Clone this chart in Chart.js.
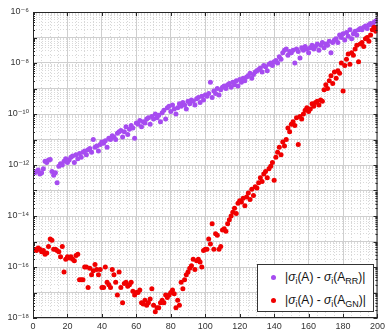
<!DOCTYPE html>
<html>
<head>
<meta charset="utf-8">
<script src="https://cdn.jsdelivr.net/npm/chart.js@4"></script>
<style>
  html, body { margin: 0; padding: 0; background: #fff; }
  #wrap { position: relative; width: 388px; height: 330px; }
  #legend {
    position: absolute; left: 257px; top: 264px; width: 115px; height: 46px;
    border: 1px solid #333; background: #fff;
    font-family: "Liberation Sans", Arial, sans-serif; font-size: 12px; color: #111;
  }
  .row { position: absolute; left: 0; height: 20px; line-height: 20px; white-space: nowrap; }
  .dot { position: absolute; left: 13px; top: 8px; width: 5px; height: 5px; border-radius: 50%; }
  .txt { position: absolute; left: 27px; top: 0; }
  sub { font-size: 9px; line-height: 0; vertical-align: -3px; }
</style>
</head>
<body>
<div id="wrap">
  <canvas id="chart" width="388" height="330"></canvas>
  <div id="legend">
    <div class="row" style="top:2px"><span class="dot" style="background:#a64cf0"></span><span class="txt">|<i>σ</i><sub>i</sub>(A) - <i>σ</i><sub>i</sub>(A<sub>RR</sub>)|</span></div>
    <div class="row" style="top:25px"><span class="dot" style="background:#f00000"></span><span class="txt">|<i>σ</i><sub>i</sub>(A) - <i>σ</i><sub>i</sub>(A<sub>GN</sub>)|</span></div>
  </div>
</div>
<script>
// log10 of |sigma_i(A) - sigma_i(A_RR)|, i = 1..200
const rrExp = [
  -12.3, -12.25, -12.2, -12.35, -12.3, -12.15, -11.85, -11.9, -11.8, -11.78,
  -12.25, -12.4, -12.3, -12.7, -12.05, -11.95, -12.0, -11.85, -11.75, -11.9,
  -11.8, -11.7, -11.65, -11.9, -11.6, -11.75, -11.55, -11.7, -11.5, -11.45,
  -11.6, -11.4, -11.35, -11.5, -11.0, -11.3, -11.25, -11.45, -11.2, -11.1,
  -11.15, -11.05, -11.3, -10.95, -11.0, -10.85, -10.9, -11.0, -10.75, -10.7,
  -10.65, -10.9, -10.7, -10.5, -10.8, -10.6, -10.45, -10.55, -10.95, -10.35,
  -10.4, -10.25, -10.5, -10.3, -10.35, -10.2, -10.15, -10.4, -10.1, -10.2,
  -10.0, -10.15, -10.05, -10.3, -9.95, -9.85, -10.2, -9.75, -9.7, -9.9,
  -9.65, -9.8, -10.0, -9.75, -9.6, -9.7, -9.55, -9.65, -9.8, -9.5,
  -9.6, -9.45, -9.5, -9.65, -9.4, -9.35, -9.55, -9.3, -9.45, -9.25,
  -9.3, -9.2, -8.75, -9.35, -9.1, -9.2, -9.0, -9.25, -9.05, -8.95,
  -8.9, -9.0, -8.85, -8.8, -8.95, -8.75, -8.85, -8.7, -8.9, -8.65,
  -8.75, -8.6, -8.7, -8.55, -8.5, -8.4, -8.6, -8.45, -8.35, -8.3,
  -8.25, -8.2, -8.35, -8.1, -8.15, -8.3, -8.05, -8.0, -8.1, -7.95,
  -7.9, -8.0, -7.75, -7.85, -7.6, -7.5, -7.45, -7.7, -7.55, -7.6,
  -7.5, -8.0, -7.45, -7.55, -7.8, -7.4, -7.5, -7.35, -7.45, -7.6,
  -7.4, -7.3, -7.45, -7.35, -7.25, -7.5, -7.3, -7.2, -7.4, -7.25,
  -7.3, -7.15, -7.6, -7.2, -7.1, -7.05, -7.2, -6.9, -7.0, -6.85,
  -7.1, -6.8, -6.95, -6.7, -7.05, -6.85, -6.75, -6.9, -6.7, -6.65,
  -6.7, -6.6, -6.55, -6.65, -6.5, -6.45, -6.5, -6.4, -6.35, -6.3
];

// log10 of |sigma_i(A) - sigma_i(A_GN)|, i = 1..200
const gnExp = [
  -15.3, -15.35, -15.25, -15.3, -15.4, -15.35, -15.5, -15.45, -15.2, -14.9,
  -14.95, -15.3, -15.3, -15.35, -15.4, -15.6, -15.2, -16.2, -15.7, -15.6,
  -15.65, -15.6, -15.7, -15.75, -15.55, -15.5, -16.5, -16.5, -16.5, -16.0,
  -16.0, -16.8, -16.05, -16.3, -16.15, -15.9, -16.1, -16.3, -16.1, -16.8,
  -16.8, -16.0, -16.6, -16.7, -16.8, -16.1, -16.3, -16.6, -17.1, -16.2,
  -16.8, -17.4, -16.65, -16.6, -16.75, -16.7, -16.6, -16.95, -17.1, -17.0,
  -17.0, -16.9, -17.4, -17.45, -17.3, -17.5, -17.4, -17.25, -16.85, -17.5,
  -17.75, -17.6, -17.6, -17.4, -17.3, -17.4, -17.1, -17.2, -17.1, -17.0,
  -16.9, -17.05, -17.6, -17.3, -17.5, -16.6, -16.85, -16.5, -16.3, -16.2,
  -16.05, -15.95, -15.7, -16.1, -15.75, -15.7, -15.8, -16.0, -15.35, -15.3,
  -15.3, -14.9, -15.1, -14.3, -15.3, -14.7, -14.75, -15.3, -15.2, -14.55,
  -14.5, -14.6, -14.3, -14.15, -14.0, -13.85, -13.7, -13.9, -13.5, -13.4,
  -13.45, -13.3, -13.6, -13.25, -13.1, -13.35, -12.95, -13.2, -12.85, -12.9,
  -12.7, -12.5, -12.65, -12.35, -12.25, -12.5, -12.15, -12.05, -11.9, -12.6,
  -11.7, -11.5, -11.3, -11.6, -11.1, -11.25, -11.0, -10.55, -10.7, -10.4,
  -10.3, -10.45, -10.15, -11.2, -10.1, -10.2, -10.0, -9.85, -9.75, -9.9,
  -9.8, -9.6, -9.7, -9.55, -9.5, -9.65, -9.45, -9.5, -9.05, -8.85,
  -9.0, -8.7, -8.5, -8.8, -8.35, -8.6, -8.3, -8.4, -8.0, -9.1,
  -8.1, -7.85, -7.65, -8.05, -7.6, -7.7, -7.45, -7.3, -7.95, -7.25,
  -7.2, -7.35, -7.05, -7.0, -7.15, -6.9, -6.7, -6.6, -6.75, -6.6
];

const xTickLabels = [0, 20, 40, 60, 80, 100, 120, 140, 160, 180, 200];
const yDecades = [-18, -17, -16, -15, -14, -13, -12, -11, -10, -9, -8, -7, -6];
const yLabelExps = [-18, -16, -14, -12, -10, -8, -6];
const yTickLabels = ['10⁻¹⁸', '10⁻¹⁶', '10⁻¹⁴', '10⁻¹²', '10⁻¹⁰', '10⁻⁸', '10⁻⁶'];

const purple = '#a64cf0';
const red = '#f00000';

// tick list for the log axis: 1..9 x 10^k
const yTicks = [];
yDecades.forEach((k) => {
  for (let m = 1; m <= 9; m++) {
    if (k === -6 && m > 1) break;
    yTicks.push({ value: m * Math.pow(10, k), decade: m === 1 ? k : null });
  }
});

function decadeOf(v) {
  const k = Math.round(Math.log10(v));
  return Math.abs(v / Math.pow(10, k) - 1) < 1e-6 ? k : null;
}

// box + inward tick marks like the original figure
const frame = {
  id: 'frame',
  afterDraw(chart) {
    const { ctx, chartArea: a, scales } = chart;
    ctx.save();
    ctx.strokeStyle = '#262626';
    ctx.lineWidth = 1;
    ctx.strokeRect(a.left + 0.5, a.top + 0.5, a.width - 1, a.height - 1);
    ctx.beginPath();
    xTickLabels.forEach((v) => {
      const px = Math.round(scales.x.getPixelForValue(v)) + 0.5;
      ctx.moveTo(px, a.bottom); ctx.lineTo(px, a.bottom - 4);
      ctx.moveTo(px, a.top); ctx.lineTo(px, a.top + 4);
    });
    yTicks.forEach((t) => {
      const py = Math.round(scales.y.getPixelForValue(t.value)) + 0.5;
      const len = t.decade !== null ? 4 : 2;
      ctx.moveTo(a.left, py); ctx.lineTo(a.left + len, py);
      ctx.moveTo(a.right, py); ctx.lineTo(a.right - len, py);
    });
    ctx.stroke();
    ctx.restore();
  }
};

new Chart(document.getElementById('chart'), {
  type: 'scatter',
  data: {
    datasets: [
      {
        label: '|σi(A) - σi(A_RR)|',
        data: rrExp.map((e, i) => ({ x: i + 1, y: Math.pow(10, e) })),
        backgroundColor: purple,
        borderWidth: 0,
        pointRadius: 2.5,
        order: 1
      },
      {
        label: '|σi(A) - σi(A_GN)|',
        data: gnExp.map((e, i) => ({ x: i + 1, y: Math.pow(10, e) })),
        backgroundColor: red,
        borderWidth: 0,
        pointRadius: 2.5,
        order: 0
      }
    ]
  },
  options: {
    responsive: false,
    animation: false,
    layout: { padding: { top: 12, right: 5, left: 0, bottom: 0 } },
    plugins: { legend: { display: false }, tooltip: { enabled: false } },
    scales: {
      x: {
        type: 'linear',
        min: 0,
        max: 200,
        afterFit: (scale) => { scale.height = 12; },
        ticks: {
          stepSize: 5,
          autoSkip: false,
          maxRotation: 0,
          padding: 3,
          color: '#333',
          font: { family: 'Liberation Sans, Arial, sans-serif', size: 9 },
          callback: (v) => (xTickLabels.includes(v) ? String(v) : '')
        },
        grid: {
          drawTicks: false,
          color: (ctx) => (ctx.tick && ctx.tick.value % 20 === 0 ? '#cfcfcf' : '#d9d9d9')
        },
        border: {
          display: false,
          dash: (ctx) => (ctx.tick && ctx.tick.value % 20 !== 0 ? [1, 2] : [])
        }
      },
      y: {
        type: 'logarithmic',
        min: 1e-18,
        max: 1e-6,
        afterFit: (scale) => { scale.width = 33; },
        afterBuildTicks: (scale) => { scale.ticks = yTicks.map((t) => ({ value: t.value })); },
        ticks: {
          autoSkip: false,
          padding: 4,
          color: '#333',
          font: { family: 'Liberation Sans, DejaVu Sans, sans-serif', size: 9 },
          callback: (v) => {
            const k = decadeOf(v);
            const idx = yLabelExps.indexOf(k);
            return idx >= 0 ? yTickLabels[idx] : '';
          }
        },
        grid: {
          drawTicks: false,
          color: (ctx) => (ctx.tick && decadeOf(ctx.tick.value) !== null ? '#cfcfcf' : '#d9d9d9')
        },
        border: {
          display: false,
          dash: (ctx) => (ctx.tick && decadeOf(ctx.tick.value) === null ? [1, 2] : [])
        }
      }
    }
  },
  plugins: [frame]
});
</script>
</body>
</html>
